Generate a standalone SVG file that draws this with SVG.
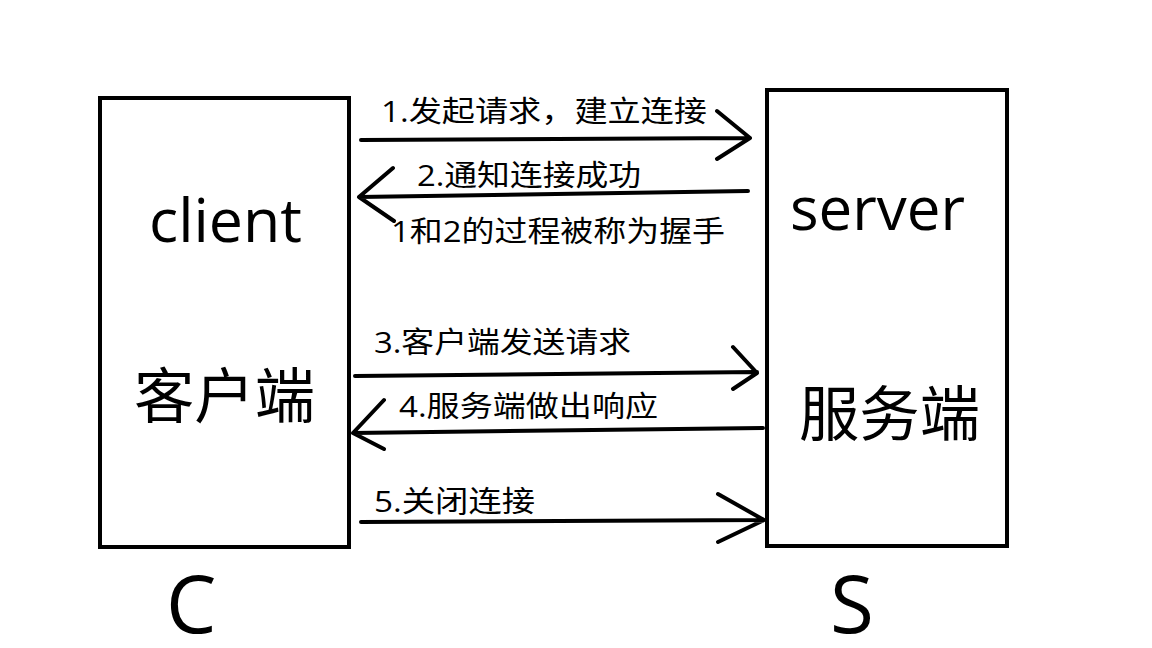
<svg xmlns="http://www.w3.org/2000/svg" width="1152" height="648" viewBox="0 0 1152 648">
<style>
.box{fill:#fff;stroke:#000;stroke-width:4}
.ln{fill:none;stroke:#000;stroke-width:4;stroke-linecap:round;stroke-linejoin:round}
text{font-family:"Open Sans","Noto Sans CJK SC",sans-serif;fill:#000}
.lbl{font-size:29px}
.big{font-size:60px}
.huge{font-size:80px}
</style>
<rect width="1152" height="648" fill="#fff"/>
<g id="client">
<rect class="box" x="100" y="98" width="249" height="449"/>
<text class="big" x="149" y="242" textLength="153" lengthAdjust="spacingAndGlyphs">client</text>
<text class="big" x="134" y="418" textLength="181" lengthAdjust="spacingAndGlyphs">客户端</text>
</g>
<g id="server">
<rect class="box" x="767" y="90" width="240" height="456"/>
<text class="big" x="790" y="230" textLength="175" lengthAdjust="spacingAndGlyphs">server</text>
<text class="big" x="799" y="436" textLength="181" lengthAdjust="spacingAndGlyphs">服务端</text>
</g>
<g id="label-c"><text class="huge" x="166" y="633">C</text></g>
<g id="label-s"><text class="huge" x="830" y="633">S</text></g>
<g id="connectors">
<path class="ln" d="M361 140 L750 138 M717 111 L750 138 L717 159"/>
<path class="ln" d="M748 191 L359 197 M393 168 L359 197 L394 221"/>
<path class="ln" d="M355 376 L757 372 M733 347 L757 373 L733 389"/>
<path class="ln" d="M763 428 L353 433 M384 400 L353 433 L384 449"/>
<path class="ln" d="M361 522 L764 520 M718 494 L764 520 L718 542"/>
</g>
<g id="labels">
<text class="lbl" x="381" y="122" textLength="326" lengthAdjust="spacingAndGlyphs">1.发起请求，建立连接</text>
<text class="lbl" x="417" y="186" textLength="224" lengthAdjust="spacingAndGlyphs">2.通知连接成功</text>
<text class="lbl" x="391" y="242" textLength="334" lengthAdjust="spacingAndGlyphs">1和2的过程被称为握手</text>
<text class="lbl" x="374" y="353" textLength="257" lengthAdjust="spacingAndGlyphs">3.客户端发送请求</text>
<text class="lbl" x="399" y="417" textLength="259" lengthAdjust="spacingAndGlyphs">4.服务端做出响应</text>
<text class="lbl" x="374" y="512" textLength="161" lengthAdjust="spacingAndGlyphs">5.关闭连接</text>
</g>
</svg>
